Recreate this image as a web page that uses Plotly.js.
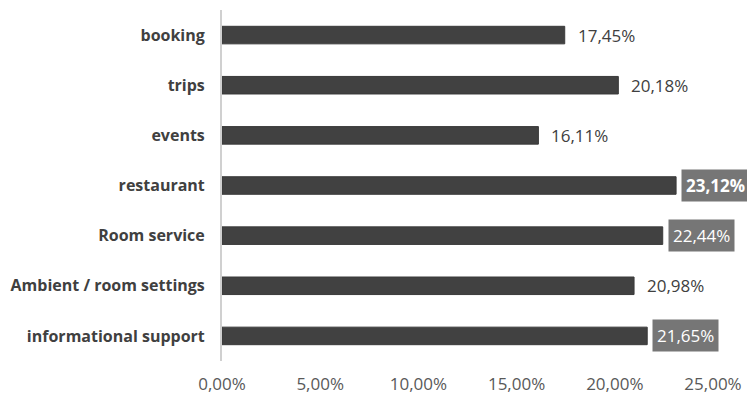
<!DOCTYPE html>
<html>
<head>
<meta charset="utf-8">
<script src="https://cdn.plot.ly/plotly-3.0.1.min.js"></script>
<style>html,body{margin:0;padding:0;background:#fff;}#chart{width:747px;height:395px;}</style>
</head>
<body>
<div id="chart"></div>
<script>
// ---- data ----
const categories = ["booking", "trips", "events", "restaurant", "Room service", "Ambient / room settings", "informational support"];
const values = [17.45, 20.18, 16.11, 23.12, 22.44, 20.98, 21.65];
const xTickValues = [0, 5, 10, 15, 20, 25];
const xTickLabels = ["0,00%", "5,00%", "10,00%", "15,00%", "20,00%", "25,00%"];
// which labels are highlighted in the reference
const boxedLabels = ["restaurant", "Room service", "informational support"];
const boldLabels = ["restaurant"];

const fmt = v => v.toFixed(2).replace('.', ',') + '%';
const FONT = '"Open Sans", "Liberation Sans", sans-serif';

const trace = {
  type: 'bar',
  orientation: 'h',
  x: values,
  y: categories,
  marker: {color: '#414141', line: {color: '#3a3a3a', width: 1}},
  hoverinfo: 'none'
};

const annotations = categories.map((c, i) => {
  const boxed = boxedLabels.includes(c);
  const bold = boldLabels.includes(c);
  return {
    x: values[i], y: c, xref: 'x', yref: 'y',
    text: bold ? '<b>' + fmt(values[i]) + '</b>' : fmt(values[i]),
    showarrow: false, xanchor: 'left', yanchor: 'middle',
    xshift: boxed ? 5 : 8,
    bgcolor: boxed ? '#767676' : 'rgba(0,0,0,0)',
    borderpad: 4,
    font: {family: FONT, size: 17, color: boxed ? '#ffffff' : '#404040'}
  };
});

const layout = {
  width: 747, height: 395,
  margin: {l: 222, r: 34, t: 10, b: 34},
  paper_bgcolor: '#ffffff', plot_bgcolor: '#ffffff',
  showlegend: false,
  bargap: 0.65,
  xaxis: {
    range: [0, 25], tickvals: xTickValues, ticktext: xTickLabels,
    showgrid: false, zeroline: false, showline: false,
    ticks: 'outside', ticklen: 8, tickcolor: 'rgba(0,0,0,0)',
    tickfont: {family: FONT, size: 17, color: '#595959'},
    fixedrange: true
  },
  yaxis: {
    autorange: 'reversed', type: 'category',
    showgrid: false, zeroline: false,
    showline: true, linecolor: '#d0d0d0', linewidth: 2,
    ticks: 'outside', ticklen: 12, tickcolor: 'rgba(0,0,0,0)',
    tickfont: {family: FONT, size: 16, color: '#404040', weight: 'bold'},
    fixedrange: true
  },
  annotations: annotations
};

Plotly.newPlot('chart', [trace], layout, {staticPlot: true, displayModeBar: false});
</script>
</body>
</html>
